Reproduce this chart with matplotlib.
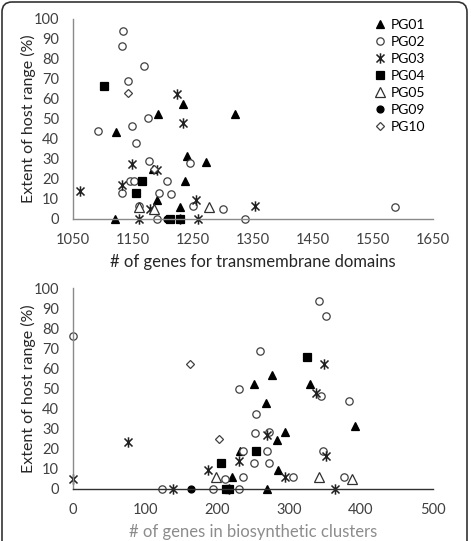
import numpy as np
import matplotlib
matplotlib.use('Agg')
import matplotlib.pyplot as plt
from matplotlib.path import Path
from matplotlib.patches import FancyBboxPatch

plt.rcParams['font.family'] = ['Lato', 'DejaVu Sans']

groups = ['PG01', 'PG02', 'PG03', 'PG04', 'PG05', 'PG09', 'PG10']

# top panel: genes for transmembrane domains vs extent of host range (%)
tm_genes = {
    'PG01': [1191, 1234, 1320, 1122, 1240, 1271, 1183, 1237, 1190, 1228, 1120],
    'PG02': [1133, 1131, 1168, 1142, 1175, 1091, 1149, 1155, 1177, 1245, 1207,
             1145, 1152, 1131, 1193, 1214, 1160, 1250, 1300, 1190, 1337, 1587],
    'PG03': [1224, 1233, 1149, 1190, 1132, 1062, 1255, 1178, 1354, 1160, 1229, 1259],
    'PG04': [1102, 1165, 1155, 1212, 1229],
    'PG05': [1160, 1185, 1276],
    'PG09': [1207],
    'PG10': [1142, 1185],
}
tm_range = {
    'PG01': [52.5, 57.3, 52.5, 43.3, 31.7, 28.5, 24.8, 19.0, 9.5, 6.2, 0],
    'PG02': [94.2, 86.7, 76.5, 69.2, 50.3, 44.2, 46.5, 37.8, 28.8, 27.8, 19.0,
             18.8, 18.8, 12.8, 13.0, 12.7, 6.5, 6.3, 4.8, 0, 0, 6.2],
    'PG03': [62.7, 48.0, 27.3, 24.3, 17.2, 14.2, 9.5, 4.8, 6.3, 0, 0, 0],
    'PG04': [66.3, 18.8, 12.8, 0, 0],
    'PG05': [5.8, 4.8, 5.8],
    'PG09': [0],
    'PG10': [62.8, 24.9],
}

# bottom panel: genes in biosynthetic clusters vs extent of host range (%)
bgc_genes = {
    'PG01': [277, 251, 329, 268, 391, 284, 294, 232, 285, 221, 269],
    'PG02': [341, 351, 260, 230, 254, 384, 344, 253, 272, 236, 269,
             347, 251, 272, 211, 236, 305, 377, 124, 194, 230, 0],
    'PG03': [348, 337, 269, 77, 231, 187, 0, 294, 351, 139, 216, 364],
    'PG04': [325, 254, 205, 213, 217],
    'PG05': [199, 387, 342],
    'PG09': [164],
    'PG10': [162, 203],
}
bgc_range = {
    'PG01': [56.8, 52.2, 52.2, 43.0, 31.6, 24.4, 28.2, 18.8, 9.5, 6.1, 0],
    'PG02': [93.8, 86.2, 68.8, 50.0, 37.4, 43.8, 46.3, 27.7, 28.6, 18.8, 18.8,
             18.9, 12.8, 12.8, 4.8, 6.1, 6.1, 6.1, 0, 0, 0, 76.2],
    'PG03': [62.4, 47.8, 26.9, 23.6, 14.1, 9.5, 4.8, 6.1, 16.6, 0, 0, 0],
    'PG04': [65.8, 18.8, 12.8, 0, 0],
    'PG05': [5.8, 5.1, 5.8],
    'PG09': [0],
    'PG10': [62.4, 24.9],
}

star = Path([(-1, -1), (1, 1), (-1, 1), (1, -1), (0, -1.3), (0, 1.3)],
            [Path.MOVETO, Path.LINETO, Path.MOVETO, Path.LINETO, Path.MOVETO, Path.LINETO])

style = {
    'PG01': dict(marker='^', ms=6.0, mfc='black', mec='black'),
    'PG02': dict(marker='o', ms=5.3, mfc='white', mec='#404040'),
    'PG03': dict(marker=star, ms=7.5, mfc='none', mec='#202020', mew=1.1),
    'PG04': dict(marker='s', ms=5.5, mfc='black', mec='black'),
    'PG05': dict(marker='^', ms=6.5, mfc='white', mec='#303030'),
    'PG09': dict(marker='o', ms=5.0, mfc='black', mec='black'),
    'PG10': dict(marker='D', ms=3.8, mfc='white', mec='#404040'),
}

fig = plt.figure(figsize=(4.71, 5.41), dpi=100)
ax1 = fig.add_axes([73/471, (541-219)/541, 360/471, 200/541])
ax2 = fig.add_axes([73/471, (541-489)/541, 360/471, 200.7/541])

handles = []
for g in groups:
    kw = dict(mew=0.9)
    kw.update(style[g])
    h, = ax1.plot(tm_genes[g], tm_range[g], ls='none', clip_on=False, **kw)
    handles.append(h)
    ax2.plot(bgc_genes[g], bgc_range[g], ls='none', clip_on=False, **kw)


def dress(ax, xlim, xticks, xlabel, label_color, xspine):
    ax.set_xlim(xlim)
    ax.set_ylim(0, 100)
    ax.set_xticks(xticks)
    ax.set_yticks(range(0, 101, 10))
    for s in ['top', 'right']:
        ax.spines[s].set_visible(False)
    ax.spines['left'].set_color('#8a8a8a')
    ax.spines['bottom'].set_color(xspine)
    ax.spines['left'].set_linewidth(1.0)
    ax.spines['bottom'].set_linewidth(1.0)
    ax.tick_params(length=0, pad=10, labelsize=10.5, colors='#404040')
    ax.set_ylabel('Extent of host range (%)', fontsize=11.5, color='#262626')
    ax.yaxis.label.set_va('center')
    ax.yaxis.set_label_coords(-0.125, 0.5)
    ax.set_xlabel(xlabel, fontsize=12, color=label_color)
    ax.xaxis.label.set_va('center')
    ax.xaxis.set_label_coords(0.5, -0.213)


dress(ax1, (1050, 1650), range(1050, 1651, 100),
      '# of genes for transmembrane domains', '#262626', '#8a8a8a')
dress(ax2, (0, 500), range(0, 501, 100),
      '# of genes in biosynthetic clusters', '#8c8c8c', '#303030')

fig.legend(handles, groups, loc='upper left', bbox_to_anchor=(375/471, 1 - 19/541),
           frameon=False, handlelength=0.7, handletextpad=0.45, labelspacing=0.36,
           fontsize=10, borderaxespad=0, borderpad=0)

frame = FancyBboxPatch((0.02, -0.2), 4.65, 5.59, boxstyle='round,pad=0,rounding_size=0.1',
                       transform=fig.dpi_scale_trans, fill=False, ec='#333333', lw=1.2)
fig.patches.append(frame)

fig.savefig('out.png', dpi=100)
